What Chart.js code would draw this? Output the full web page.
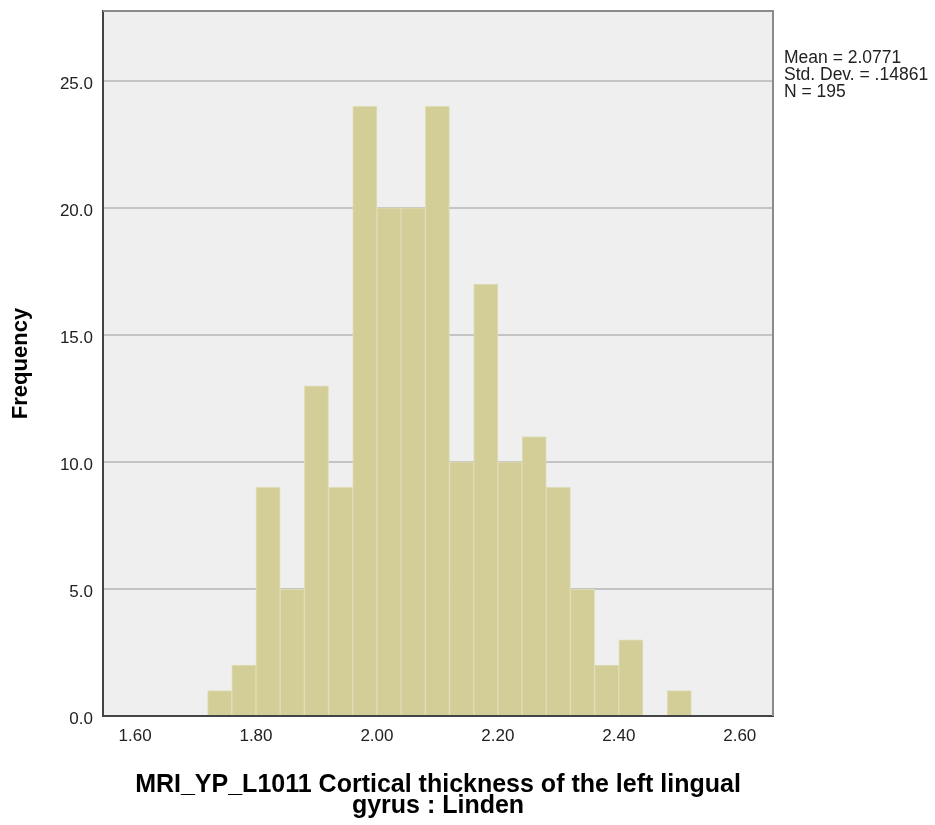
<!DOCTYPE html>
<html>
<head>
<meta charset="utf-8">
<script src="https://cdn.jsdelivr.net/npm/chart.js@4/dist/chart.umd.min.js"></script>
<style>
  html, body { margin: 0; padding: 0; background: #fff; }
  #wrap { width: 935px; height: 825px; }
</style>
</head>
<body>
<div id="wrap"><canvas id="histChart"></canvas></div>
<script>
// bin centres (bin width 0.04) and counts
const binCenters = [1.74, 1.78, 1.82, 1.86, 1.90, 1.94, 1.98, 2.02, 2.06, 2.10,
                    2.14, 2.18, 2.22, 2.26, 2.30, 2.34, 2.38, 2.42, 2.46, 2.50];
const frequencies = [1, 2, 9, 5, 13, 9, 24, 20, 20, 24,
                     10, 17, 10, 11, 9, 5, 2, 3, 0, 1];
const xTickValues = [1.6, 1.8, 2.0, 2.2, 2.4, 2.6];
const yTickValues = [0, 5, 10, 15, 20, 25];
const statsLines = ['Mean = 2.0771', 'Std. Dev. = .14861', 'N = 195'];
const xTitle = ['MRI_YP_L1011 Cortical thickness of the left lingual', 'gyrus : Linden'];
const yTitle = 'Frequency';

const FONT = "'Liberation Sans', Arial, sans-serif";

// grey plot background + lighter top/right frame, stats text at the side
const frameAndStats = {
    id: 'frameAndStats',
    beforeDraw(chart) {
        const { ctx, chartArea: a } = chart;
        ctx.save();
        ctx.fillStyle = '#efefef';
        ctx.fillRect(a.left, a.top, a.right - a.left, a.bottom - a.top);
        ctx.restore();
    },
    afterDraw(chart) {
        const { ctx, chartArea: a } = chart;
        ctx.save();
        ctx.strokeStyle = '#8c8c8c';
        ctx.lineWidth = 2;
        ctx.beginPath();
        ctx.moveTo(a.left, a.top);
        ctx.lineTo(a.right, a.top);
        ctx.lineTo(a.right, a.bottom);
        ctx.stroke();

        ctx.fillStyle = '#222';
        ctx.font = '17.5px ' + FONT;
        ctx.textBaseline = 'alphabetic';
        ctx.textAlign = 'left';
        statsLines.forEach((line, i) => {
            ctx.fillText(line, a.right + 11, 63 + i * 17);
        });
        ctx.restore();
    }
};

const ctx = document.getElementById('histChart').getContext('2d');
const histChart = new Chart(ctx, {
    type: 'bar',
    data: {
        datasets: [{
            data: binCenters.map((c, i) => ({ x: c, y: frequencies[i] })),
            backgroundColor: '#d3ce98',
            borderColor: '#e0ddb6',
            borderWidth: 1,
            barPercentage: 1,
            categoryPercentage: 1
        }]
    },
    options: {
        responsive: true,
        maintainAspectRatio: false,
        animation: false,
        layout: { padding: { top: 11, right: 162, left: 0, bottom: 0 } },
        plugins: {
            legend: { display: false },
            tooltip: { enabled: false }
        },
        scales: {
            x: {
                type: 'linear',
                min: 1.547,
                max: 2.655,
                offset: false,
                grid: { display: false, drawTicks: false },
                border: { color: '#444', width: 2 },
                afterBuildTicks: axis => {
                    axis.ticks = xTickValues.map(v => ({ value: v }));
                },
                afterFit: axis => { axis.height = 109; },
                ticks: {
                    color: '#222',
                    padding: 10,
                    maxRotation: 0,
                    autoSkip: false,
                    font: { family: FONT, size: 17 },
                    callback: v => Number(v).toFixed(2)
                },
                title: {
                    display: true,
                    text: xTitle,
                    color: '#000',
                    font: { family: FONT, size: 25, weight: 'bold', lineHeight: 0.86 },
                    padding: { top: 0, bottom: 8 }
                }
            },
            y: {
                min: 0,
                max: 27.75,
                grid: { color: '#c4c4c4', lineWidth: 2, drawTicks: false },
                border: { color: '#444', width: 2 },
                afterBuildTicks: axis => {
                    axis.ticks = yTickValues.map(v => ({ value: v }));
                },
                afterFit: axis => {
                    axis.width = 103;
                    axis.paddingTop = 0;
                    axis.paddingBottom = 0;
                },
                ticks: {
                    color: '#222',
                    padding: 10,
                    labelOffset: 3,
                    font: { family: FONT, size: 17 },
                    callback: v => Number(v).toFixed(1)
                },
                title: {
                    display: true,
                    text: yTitle,
                    color: '#000',
                    font: { family: FONT, size: 22, weight: 'bold' },
                    padding: { top: 8, bottom: 0 }
                }
            }
        }
    },
    plugins: [frameAndStats]
});
</script>
</body>
</html>
